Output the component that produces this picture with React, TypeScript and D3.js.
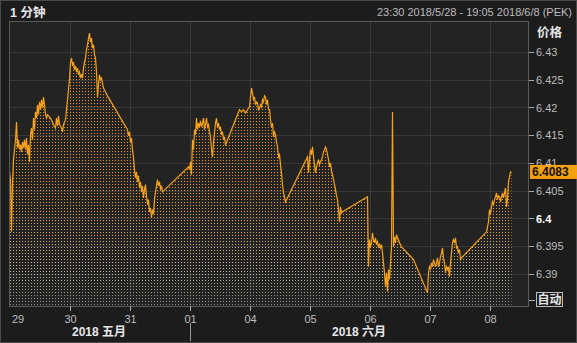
import React from "react";
import * as d3 from "d3";

// ---- data (session position: 60 units per trading day, 0 = 29th) ----
const dayTicks = [0, 60, 120, 180, 240, 300, 360, 420, 480];
const dayLabels = ["29", "30", "31", "01", "04", "05", "06", "07", "08"];
const priceTicks = [6.39, 6.395, 6.4, 6.405, 6.41, 6.415, 6.42, 6.425, 6.43];
const priceTickLabels = ["6.39", "6.395", "6.4", "6.405", "6.41", "6.415", "6.42", "6.425", "6.43"];
const monthLabels = ["2018 五月", "2018 六月"];
const monthSpans = [[-1, 180], [180, 519]];

const sessionPos = [
  -1, 0, 1, 2, 3, 4, 5, 6, 7, 8, 9, 10, 11, 12, 13, 14, 15, 16, 17, 18, 19, 20,
  21, 22, 23, 24, 25, 26, 27, 28, 29, 30, 31, 32, 33, 34, 35, 36, 37, 38, 40, 42,
  44, 46, 47, 48, 49, 50, 52, 53, 54, 56, 57, 58, 59, 60, 61, 62, 63, 64, 65, 66,
  67, 68, 69, 70, 71, 72, 73, 74, 75, 76, 77, 78, 79, 80, 81, 82, 83, 84, 85, 86,
  87, 88, 89, 90, 91, 92, 94, 96, 98, 118, 119, 120, 121, 122, 123, 124, 125, 126,
  127, 128, 129, 130, 131, 132, 133, 134, 135, 136, 137, 138, 139, 140, 141, 142,
  143, 144, 145, 146, 147, 148, 149, 150, 151, 152, 153, 179, 180, 181, 182, 183,
  184, 185, 186, 187, 188, 189, 190, 191, 192, 193, 194, 195, 196, 197, 198, 199,
  200, 201, 202, 203, 204, 205, 206, 207, 208, 209, 210, 211, 212, 213, 214, 215,
  216, 217, 218, 230, 232, 234, 236, 238, 240, 241, 242, 243, 244, 245, 246, 247,
  248, 249, 250, 251, 252, 253, 254, 255, 256, 257, 258, 259, 260, 261, 262, 263,
  264, 265, 266, 267, 268, 269, 270, 271, 272, 273, 274, 275, 276, 298, 299, 300,
  301, 302, 303, 304, 305, 306, 307, 308, 309, 310, 311, 312, 313, 314, 315, 316,
  317, 318, 319, 320, 321, 322, 323, 324, 325, 326, 327, 328, 329, 330, 331, 332,
  333, 358, 359, 360, 361, 362, 363, 364, 365, 366, 367, 368, 369, 370, 371, 372,
  373, 374, 375, 376, 377, 378, 379, 380, 381, 382, 383, 384, 385, 386, 387, 388,
  389, 390, 391, 392, 393, 404, 418, 419, 420, 421, 422, 423, 424, 425, 426, 427,
  428, 429, 430, 431, 432, 433, 434, 435, 436, 437, 438, 439, 440, 441, 442, 443,
  444, 445, 446, 447, 448, 449, 450, 451, 452, 453, 477, 478, 479, 480, 481, 482,
  483, 484, 485, 486, 487, 488, 489, 490, 491, 492, 493, 494, 495, 496, 497, 498,
  499, 500, 501, 502,
];

const price = [
  6.4079, 6.4084, 6.407, 6.3976, 6.4061, 6.4106, 6.4124, 6.4142, 6.4174, 6.4127, 6.4142, 6.4124, 6.4133, 6.412, 6.4138, 6.4127, 6.4142, 6.4124, 6.4145, 6.4115, 6.4133, 6.4102,
  6.4151, 6.4163, 6.4142, 6.4181, 6.416, 6.4192, 6.4181, 6.4205, 6.4187, 6.421, 6.4196, 6.4214, 6.4199, 6.4219, 6.4205, 6.4187, 6.4181, 6.4187, 6.4183, 6.4178,
  6.4169, 6.4163, 6.4181, 6.4167, 6.4185, 6.417, 6.4163, 6.4156, 6.4169, 6.4178, 6.4196, 6.4214, 6.4232, 6.425, 6.4282, 6.4289, 6.4275, 6.4282, 6.4268, 6.4275,
  6.4264, 6.4271, 6.4259, 6.4264, 6.4253, 6.426, 6.4253, 6.4271, 6.4282, 6.4289, 6.4304, 6.4313, 6.4325, 6.4334, 6.4318, 6.4325, 6.4307, 6.4313, 6.4295, 6.4289,
  6.4264, 6.4219, 6.4241, 6.4259, 6.425, 6.4253, 6.4235, 6.4228, 6.4221, 6.416, 6.4149, 6.4156, 6.4138, 6.4145, 6.4124, 6.4109, 6.4088, 6.4073,
  6.4084, 6.4066, 6.4077, 6.4055, 6.4066, 6.4048, 6.4059, 6.4037, 6.4052, 6.4061, 6.4041, 6.4025, 6.4034, 6.4012, 6.4019, 6.4001,
  6.4016, 6.4008, 6.4034, 6.4048, 6.4059, 6.407, 6.4059, 6.4066, 6.4052, 6.4059, 6.4048, 6.4093, 6.4088, 6.4102, 6.4079, 6.4142,
  6.4124, 6.416, 6.4151, 6.4181, 6.416, 6.4172, 6.4165, 6.4176, 6.4165, 6.4172, 6.4181, 6.416, 6.417, 6.4181, 6.4165, 6.4169,
  6.4156, 6.4147, 6.4124, 6.4111, 6.4138, 6.4154, 6.4172, 6.4181, 6.4165, 6.4172, 6.416, 6.4165, 6.4151, 6.4156, 6.4142, 6.4147,
  6.4133, 6.4136, 6.4142, 6.4196, 6.4192, 6.4196, 6.419, 6.4196, 6.4201, 6.4219, 6.4235, 6.4226, 6.4214, 6.4219, 6.4205, 6.421,
  6.4208, 6.4196, 6.4199, 6.4205, 6.4201, 6.4214, 6.421, 6.4221, 6.4219, 6.4205, 6.4214, 6.4196, 6.4196, 6.4178, 6.4165, 6.4172,
  6.4147, 6.4156, 6.4151, 6.4138, 6.4129, 6.4111, 6.4115, 6.4097, 6.4082, 6.4061, 6.4046, 6.4039, 6.403, 6.4111, 6.4082, 6.4106,
  6.4124, 6.4115, 6.4129, 6.4111, 6.4097, 6.4082, 6.4093, 6.41, 6.4106, 6.4097, 6.4102, 6.4106, 6.4111, 6.412, 6.4124, 6.4129,
  6.4124, 6.4115, 6.4106, 6.4093, 6.41, 6.4086, 6.4079, 6.407, 6.4061, 6.4052, 6.4041, 6.4034, 6.4016, 6.3994, 6.4021, 6.401,
  6.4012, 6.4039, 6.3913, 6.3962, 6.3949, 6.3956, 6.3974, 6.3962, 6.3956, 6.3965, 6.3953, 6.3958, 6.3949, 6.3953, 6.3947, 6.3953,
  6.3938, 6.392, 6.3902, 6.3877, 6.3902, 6.3868, 6.3908, 6.389, 6.392, 6.3949, 6.4192, 6.3949, 6.3967, 6.3956, 6.3971, 6.3965,
  6.3962, 6.3956, 6.3953, 6.3949, 6.3947, 6.3926, 6.3866, 6.3902, 6.3913, 6.3908, 6.392, 6.3913, 6.3926, 6.392, 6.3913, 6.392,
  6.3929, 6.3913, 6.392, 6.3931, 6.3938, 6.3947, 6.3929, 6.392, 6.3902, 6.3913, 6.3908, 6.3913, 6.3895, 6.392, 6.3938, 6.3956,
  6.3962, 6.3956, 6.3965, 6.3947, 6.3949, 6.3938, 6.3944, 6.3926, 6.3929, 6.3931, 6.3976, 6.3985, 6.3994, 6.4016, 6.4008, 6.4021,
  6.403, 6.4025, 6.4034, 6.4039, 6.4046, 6.4034, 6.4041, 6.4039, 6.403, 6.4039, 6.4046, 6.4037, 6.4046, 6.4055, 6.4021, 6.4034,
  6.4066, 6.4075, 6.4084, 6.4083,
];

const lastPriceLabel = "6.4083";
const titleText = "1 分钟";
const rangeText = "23:30 2018/5/28 - 19:05 2018/6/8 (PEK)";

export default function App() {
  const W = 577, H = 343;
  const L = 9, R = 529, T = 21, B = 306;
  const x = d3.scaleLinear().domain([-0.5, 519.5]).range([L, R]);
  const y = d3.scaleLinear().domain([6.39, 6.43]).range([274, 52]);
  const pts = sessionPos.map((t, i) => [t, price[i]] as [number, number]);
  const line = d3.line<[number, number]>().x(d => x(d[0])).y(d => y(d[1]));
  const area = d3.area<[number, number]>().x(d => x(d[0])).y0(B).y1(d => y(d[1]));
  const last = price[price.length - 1];
  const numFont = "'Liberation Sans', Arial, sans-serif";
  const cjkFont = "'Liberation Sans', 'Noto Sans CJK SC', sans-serif";

  return (
    <svg width={W} height={H} style={{ position: "absolute", left: 0, top: 0, background: "#1c1c1c" }}>
      <defs>
        <pattern id="dots" width={3} height={3} patternUnits="userSpaceOnUse">
          <rect x={1} y={1} width={1} height={1} fill="white" />
        </pattern>
        <mask id="areaMask" maskUnits="userSpaceOnUse" x={0} y={0} width={W} height={H}>
          <path d={area(pts) || ""} fill="url(#dots)" />
        </mask>
        <linearGradient id="dotGrad" gradientUnits="userSpaceOnUse" x1={0} y1={T} x2={0} y2={B}>
          <stop offset="0" stopColor="#f08c00" />
          <stop offset="0.55" stopColor="#f29a10" />
          <stop offset="0.75" stopColor="#e0a848" />
          <stop offset="0.88" stopColor="#bdb39a" />
          <stop offset="1" stopColor="#8a8a84" />
        </linearGradient>
        <clipPath id="plotClip">
          <rect x={L} y={T} width={R - L} height={B - T} />
        </clipPath>
      </defs>
      <rect x={0.5} y={0.5} width={W - 1} height={H - 1} fill="#1c1c1c" stroke="#4a4a4a" />
      <rect x={L} y={T} width={R - L} height={B - T} fill="#232323" />
      {/* grid */}
      {priceTicks.map((v, i) => (
        <line key={"hg" + i} x1={L} x2={R} y1={Math.round(y(v)) + 0.5} y2={Math.round(y(v)) + 0.5} stroke="#383838" />
      ))}
      {dayTicks.slice(1).map((t, i) => (
        <line key={"vg" + i} x1={Math.round(x(t)) + 0.5} x2={Math.round(x(t)) + 0.5} y1={T} y2={B} stroke="#383838" />
      ))}
      <g clipPath="url(#plotClip)">
        <rect x={L} y={T} width={R - L} height={B - T} fill="url(#dotGrad)" mask="url(#areaMask)" />
        <path d={line(pts) || ""} fill="none" stroke="#f7a11c" strokeWidth={1.2} />
      </g>
      <rect x={L + 0.5} y={T + 0.5} width={R - L - 1} height={B - T} fill="none" stroke="#5a5a5a" />
      {/* header */}
      <text x={10} y={17} fill="#e6e6e6" fontSize={12.5} fontWeight="bold" fontFamily={cjkFont}>{titleText}</text>
      <text x={572} y={16} fill="#bdbdbd" fontSize={11} textAnchor="end" fontFamily={numFont}>{rangeText}</text>
      {/* right axis */}
      <text x={537} y={37} fill="#e6e6e6" fontSize={12.5} fontWeight="bold" fontFamily={cjkFont}>价格</text>
      {priceTicks.map((v, i) => (
        <g key={"yt" + i}>
          <line x1={R} x2={R + 5} y1={Math.round(y(v)) + 0.5} y2={Math.round(y(v)) + 0.5} stroke="#aaaaaa" />
          <text x={R + 7} y={y(v) + 4} fill={priceTickLabels[i] === "6.4" ? "#ffffff" : "#bdbdbd"}
            fontWeight={priceTickLabels[i] === "6.4" ? "bold" : "normal"} fontSize={11} fontFamily={numFont}>{priceTickLabels[i]}</text>
        </g>
      ))}
      <line x1={R} x2={R + 6} y1={300.5} y2={300.5} stroke="#aaaaaa" />
      <rect x={536.5} y={292.5} width={26} height={14} fill="none" stroke="#bdbdbd" />
      <text x={549.5} y={304} fill="#e6e6e6" fontSize={12} fontWeight="bold" textAnchor="middle" fontFamily={cjkFont}>自动</text>
      <rect x={R + 1} y={y(last) - 7.5} width={W - R - 1} height={14} fill="#f5a00f" />
      <text x={R + 3} y={y(last) + 4} fill="#111" fontSize={12} fontWeight="bold" fontFamily={numFont}>{lastPriceLabel}</text>
      {/* bottom axis */}
      {dayTicks.map((t, i) => (
        <g key={"xt" + i}>
          {i > 0 && <line x1={Math.round(x(t)) + 0.5} x2={Math.round(x(t)) + 0.5} y1={B} y2={B + 5} stroke="#aaaaaa" />}
          <text x={i === 0 ? x(t) + 2.5 : x(t) + 1} y={323} fill="#bdbdbd" fontSize={11}
            textAnchor={i === 0 ? "start" : "middle"} fontFamily={numFont}>{dayLabels[i]}</text>
        </g>
      ))}
      <line x1={Math.round(x(180)) + 0.5} x2={Math.round(x(180)) + 0.5} y1={323} y2={341} stroke="#9a9a9a" />
      {monthLabels.map((m, i) => (
        <text key={"m" + i} x={(x(monthSpans[i][0]) + x(monthSpans[i][1])) / 2} y={336} fill="#e6e6e6"
          fontSize={12} fontWeight="bold" textAnchor="middle" fontFamily={cjkFont}>{m}</text>
      ))}
    </svg>
  );
}
